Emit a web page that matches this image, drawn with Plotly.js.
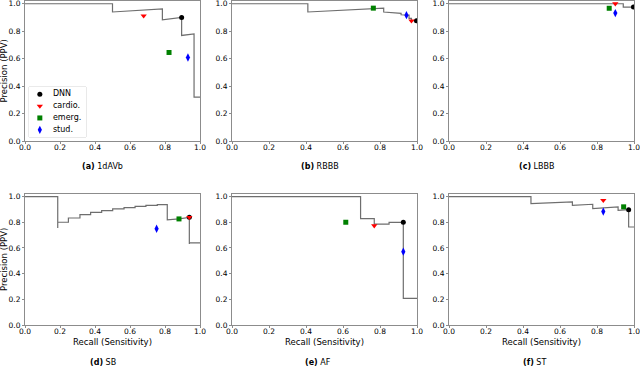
<!DOCTYPE html>
<html>
<head>
<meta charset="utf-8">
<script src="https://cdn.plot.ly/plotly-3.0.1.min.js"></script>
<style>
  html, body { margin: 0; padding: 0; background: #fff; }
  #pr { width: 640px; height: 366px; }
</style>
</head>
<body>
<div id="pr"></div>
<script>
// panels
var panelNames = ['1dAVb', 'RBBB', 'LBBB', 'SB', 'AF', 'ST'];
var panelLetters = ['a', 'b', 'c', 'd', 'e', 'f'];

// precision-recall curves of the DNN, one pair of arrays per panel
var recall_1dAVb = [0, 0.5, 0.5, 0.785, 0.785, 0.895, 0.895, 0.966, 0.966, 1.0];
var precision_1dAVb = [1.0, 1.0, 0.94, 0.962, 0.883, 0.90, 0.769, 0.78, 0.32, 0.32];

var recall_RBBB = [0, 0.41, 0.41, 0.764, 0.82, 0.82, 0.914, 0.914, 0.943, 0.957, 0.957, 0.97, 0.97, 1.0];
var precision_RBBB = [1.0, 1.0, 0.94, 0.968, 0.968, 0.94, 0.93, 0.92, 0.917, 0.917, 0.893, 0.893, 0.876, 0.876];

var recall_LBBB = [0, 0.942, 0.942, 1.0];
var precision_LBBB = [1.0, 1.0, 0.976, 0.976];

var recall_SB = [0, 0.187, 0.187, 0.187, 0.248, 0.248, 0.314, 0.314, 0.375, 0.375, 0.438, 0.438,
    0.501, 0.501, 0.566, 0.566, 0.629, 0.629, 0.691, 0.691, 0.756, 0.756, 0.813, 0.813,
    0.88, 0.939, 0.939, 0.939, 1.0];
var precision_SB = [1.0, 1.0, 0.755, 0.80, 0.80, 0.833, 0.833, 0.859, 0.859, 0.877, 0.877, 0.891,
    0.891, 0.904, 0.904, 0.914, 0.914, 0.924, 0.924, 0.932, 0.932, 0.938, 0.938, 0.818,
    0.826, 0.838, 0.63, 0.64, 0.64];

var recall_AF = [0, 0.695, 0.695, 0.769, 0.769, 0.849, 0.849, 0.926, 0.926, 1.0];
var precision_AF = [1.0, 1.0, 0.828, 0.828, 0.786, 0.786, 0.799, 0.80, 0.208, 0.208];

var recall_ST = [0, 0.443, 0.443, 0.667, 0.667, 0.777, 0.777, 0.914, 0.914, 0.971, 0.971, 1.0];
var precision_ST = [1.0, 1.0, 0.945, 0.958, 0.932, 0.94, 0.906, 0.92, 0.893, 0.898, 0.763, 0.763];

var curveRecall = [recall_1dAVb, recall_RBBB, recall_LBBB, recall_SB, recall_AF, recall_ST];
var curvePrecision = [precision_1dAVb, precision_RBBB, precision_LBBB, precision_SB, precision_AF, precision_ST];

// operating points, one value per panel
var dnnRecall = [0.895, 0.997, 0.997, 0.939, 0.926, 0.971];
var dnnPrecision = [0.90, 0.876, 0.976, 0.838, 0.80, 0.898];
var cardioRecall = [0.678, 0.97, 0.899, 0.939, 0.769, 0.834];
var cardioPrecision = [0.912, 0.876, 1.0, 0.838, 0.773, 0.971];
var emergRecall = [0.823, 0.764, 0.866, 0.88, 0.615, 0.944];
var emergPrecision = [0.645, 0.968, 0.967, 0.826, 0.80, 0.92];
var studRecall = [0.931, 0.943, 0.899, 0.752, 0.926, 0.834];
var studPrecision = [0.608, 0.917, 0.932, 0.75, 0.571, 0.883];

var groupNames = ['DNN', 'cardio.', 'emerg.', 'stud.'];
var groupRecall = [dnnRecall, cardioRecall, emergRecall, studRecall];
var groupPrecision = [dnnPrecision, cardioPrecision, emergPrecision, studPrecision];
var groupColors = ['#000000', '#ff0000', '#008000', '#0000ff'];
var groupSymbols = ['circle', 'triangle-down', 'square', 'diamond-tall'];
var groupSizes = [5, 5.5, 5, 6];

var W = 640, H = 366;
var font = 'DejaVu Sans, sans-serif';
var frame = '#8c8c8c';

// plot boxes in pixels: [left, right], [top, bottom]
var boxX = [[25, 200], [232, 417], [449, 634]];
var boxY = [[1, 141], [194, 325]];

var data = [];
var layout = {
    width: W,
    height: H,
    margin: {l: 0, r: 0, t: 0, b: 0},
    paper_bgcolor: '#fff',
    plot_bgcolor: '#fff',
    font: {family: font, size: 8, color: '#000'},
    showlegend: false,
    annotations: [],
    shapes: []
};

for (var i = 0; i < 6; i++) {
    var col = i % 3, row = Math.floor(i / 3);
    var xa = 'x' + (i === 0 ? '' : i + 1);
    var ya = 'y' + (i === 0 ? '' : i + 1);

    data.push({
        x: curveRecall[i], y: curvePrecision[i],
        xaxis: xa, yaxis: ya,
        type: 'scatter', mode: 'lines',
        line: {color: '#6e6e6e', width: 1.2},
        hoverinfo: 'skip'
    });
    for (var g = 0; g < 4; g++) {
        data.push({
            x: [groupRecall[g][i]], y: [groupPrecision[g][i]],
            xaxis: xa, yaxis: ya,
            type: 'scatter', mode: 'markers',
            name: groupNames[g],
            marker: {color: groupColors[g], symbol: groupSymbols[g], size: groupSizes[g]}
        });
    }

    var axCommon = {
        showgrid: false, zeroline: false,
        showline: true, mirror: true, linecolor: frame, linewidth: 1,
        ticks: 'outside', ticklen: 2, tickcolor: frame, tickwidth: 1,
        tick0: 0, dtick: 0.2, tickformat: '.1f',
        tickfont: {family: font, size: 7.5, color: '#000'},
        ticklabeloverflow: 'allow',
        fixedrange: true
    };
    layout['xaxis' + (i === 0 ? '' : i + 1)] = Object.assign({}, axCommon, {
        domain: [boxX[col][0] / W, boxX[col][1] / W],
        range: [0, 1],
        ticklabelstandoff: -3,
        anchor: ya
    });
    layout['yaxis' + (i === 0 ? '' : i + 1)] = Object.assign({}, axCommon, {
        domain: [1 - boxY[row][1] / H, 1 - boxY[row][0] / H],
        range: [0, 1.02],
        anchor: xa
    });
}

// sub-figure captions
var captionX = [102, 320, 537, 103, 318, 534];
var captionY = [167, 167, 167, 362, 362, 362];
for (var k = 0; k < 6; k++) {
    layout.annotations.push({
        xref: 'paper', yref: 'paper',
        x: captionX[k] / W, y: 1 - captionY[k] / H,
        xanchor: 'center', yanchor: 'middle', showarrow: false,
        text: '<b>(' + panelLetters[k] + ')</b> ' + panelNames[k],
        font: {family: font, size: 8, color: '#000'}
    });
}

// axis labels
for (var c = 0; c < 3; c++) {
    layout.annotations.push({
        xref: 'paper', yref: 'paper',
        x: (boxX[c][0] + boxX[c][1]) / 2 / W, y: 1 - 342 / H,
        xanchor: 'center', yanchor: 'middle', showarrow: false,
        text: 'Recall (Sensitivity)',
        font: {family: font, size: 8.5, color: '#000'}
    });
}
for (var r = 0; r < 2; r++) {
    layout.annotations.push({
        xref: 'paper', yref: 'paper',
        x: 3.5 / W, y: 1 - (boxY[r][0] + boxY[r][1]) / 2 / H,
        xanchor: 'center', yanchor: 'middle', showarrow: false,
        textangle: -90,
        text: 'Precision (PPV)',
        font: {family: font, size: 8.5, color: '#000'}
    });
}

// legend of panel (a), drawn on its own small axis so the rows stay compact
var legBox = [29, 86, 87, 137];
layout.shapes.push({
    type: 'rect', xref: 'paper', yref: 'paper', layer: 'below',
    x0: legBox[0] / W, x1: legBox[1] / W,
    y0: 1 - legBox[3] / H, y1: 1 - legBox[2] / H,
    line: {color: '#d4d4d4', width: 1}, fillcolor: '#fff'
});
layout.xaxis7 = {domain: [legBox[0] / W, legBox[1] / W], range: [0, 1], visible: false, fixedrange: true, anchor: 'y7'};
layout.yaxis7 = {domain: [1 - legBox[3] / H, 1 - legBox[2] / H], range: [3.6, -0.6], visible: false, fixedrange: true, anchor: 'x7'};
for (var g2 = 0; g2 < 4; g2++) {
    data.push({
        x: [0.19], y: [g2], xaxis: 'x7', yaxis: 'y7',
        type: 'scatter', mode: 'markers', hoverinfo: 'skip',
        marker: {color: groupColors[g2], symbol: groupSymbols[g2], size: groupSizes[g2]}
    });
    data.push({
        x: [0.42], y: [g2], xaxis: 'x7', yaxis: 'y7',
        type: 'scatter', mode: 'text', hoverinfo: 'skip',
        text: [groupNames[g2]], textposition: 'middle right',
        textfont: {family: font, size: 8, color: '#000'}
    });
}

Plotly.newPlot('pr', data, layout, {staticPlot: true});
</script>
</body>
</html>
